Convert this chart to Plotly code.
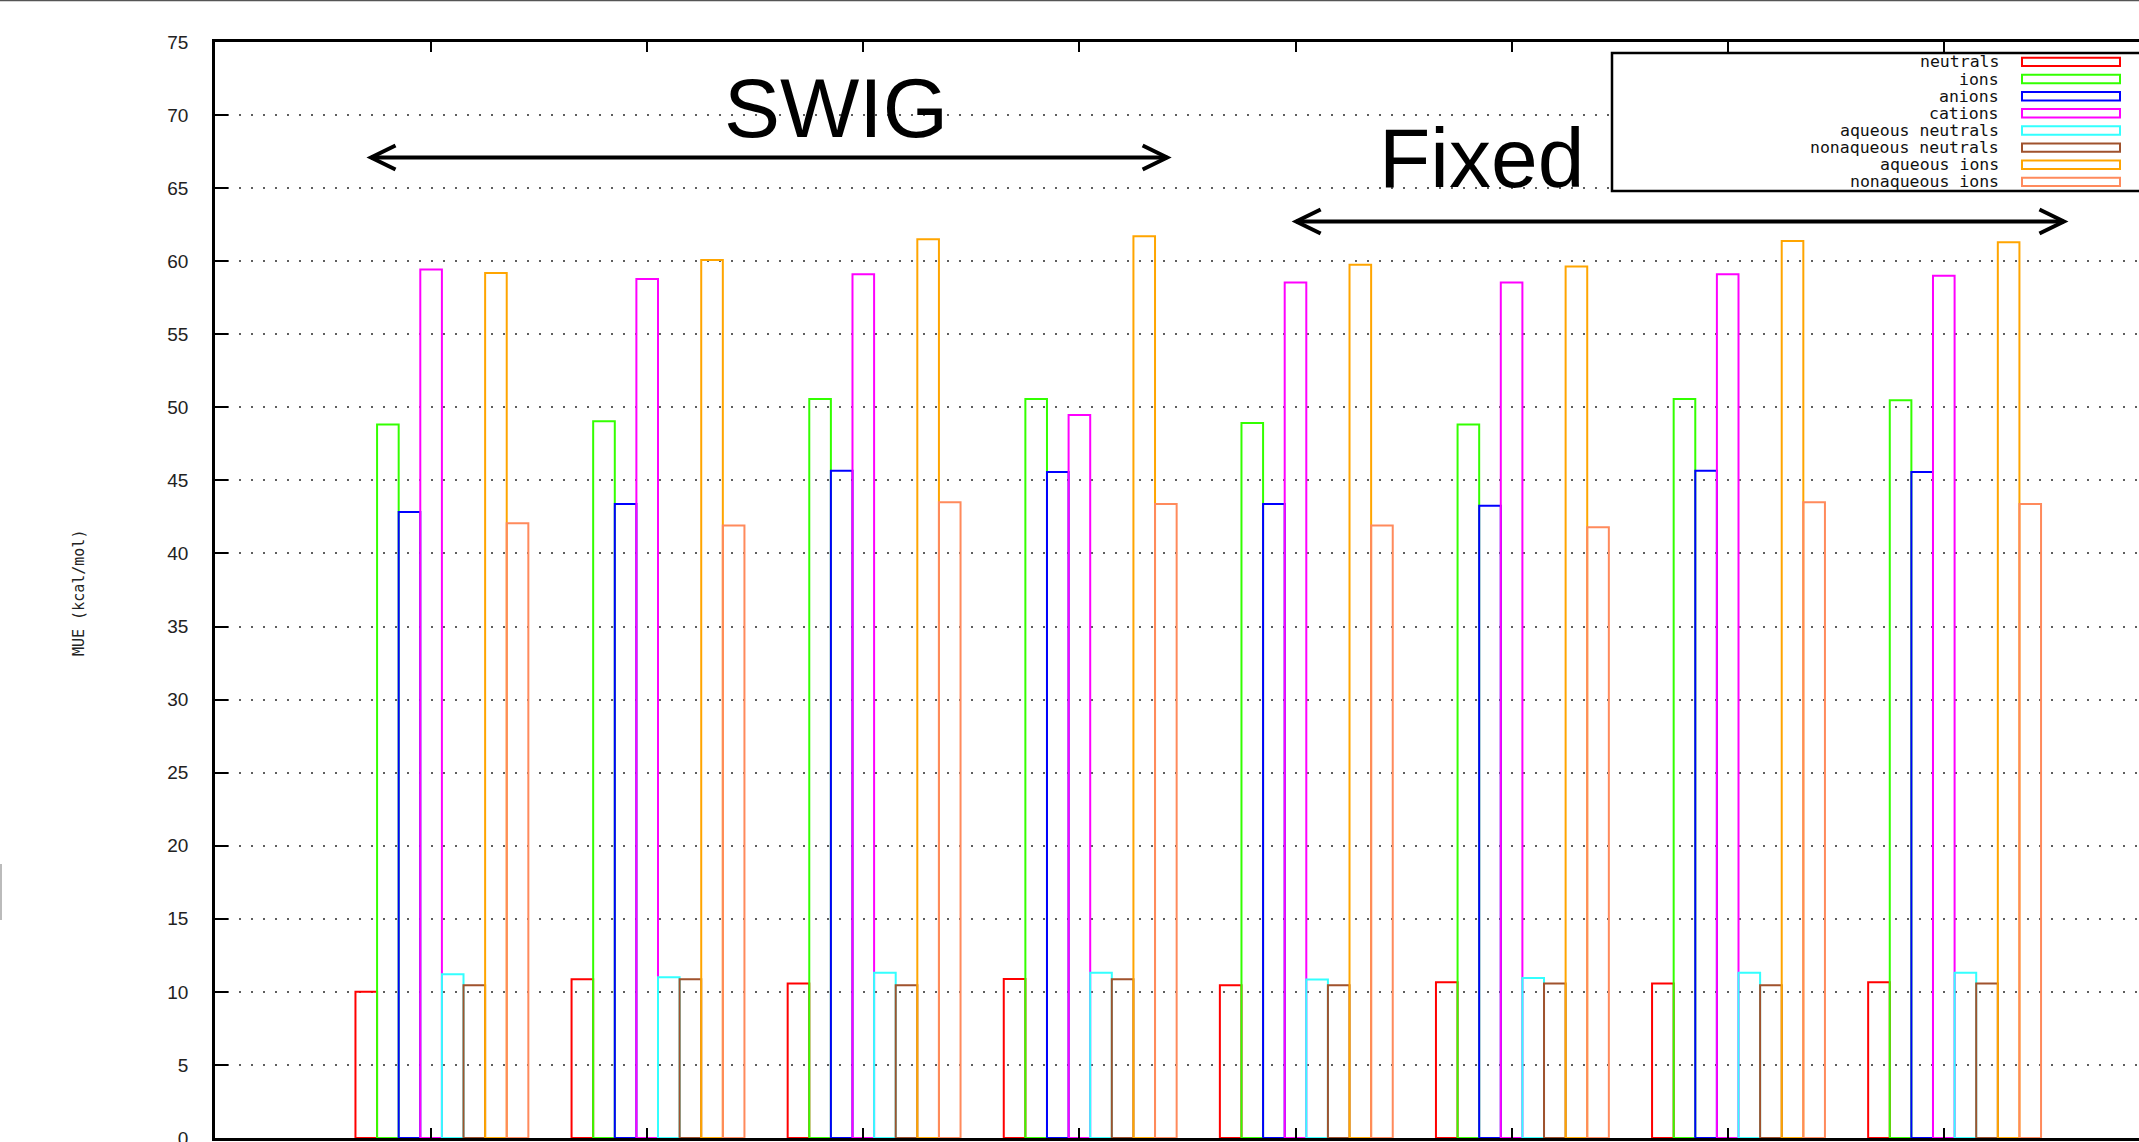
import plotly.graph_objects as go

# ---------------- data ----------------
groups = [0, 1, 2, 3, 4, 5, 6, 7]
series_names = ["neutrals", "ions", "anions", "cations", "aqueous neutrals",
                "nonaqueous neutrals", "aqueous ions", "nonaqueous ions"]
neutrals = [10.0, 10.87, 10.57, 10.88, 10.45, 10.66, 10.57, 10.66]
ions = [48.82, 49.05, 50.57, 50.57, 48.93, 48.82, 50.57, 50.48]
anions = [42.84, 43.39, 45.66, 45.57, 43.39, 43.27, 45.66, 45.57]
cations = [59.43, 58.79, 59.11, 49.48, 58.54, 58.54, 59.11, 59.0]
aqueous_neutrals = [11.2, 11.0, 11.3, 11.3, 10.84, 10.95, 11.3, 11.3]
nonaqueous_neutrals = [10.45, 10.87, 10.45, 10.86, 10.45, 10.57, 10.45, 10.57]
aqueous_ions = [59.2, 60.09, 61.51, 61.71, 59.75, 59.63, 61.39, 61.3]
nonaqueous_ions = [42.07, 41.91, 43.5, 43.39, 41.91, 41.8, 43.5, 43.39]
series_values = [neutrals, ions, anions, cations, aqueous_neutrals,
                 nonaqueous_neutrals, aqueous_ions, nonaqueous_ions]
y_ticks = list(range(0, 80, 5))
y_title = "MUE (kcal/mol)"
label_swig = "SWIG"
label_fixed = "Fixed"
# arrow spans (data coords)
swig_span = (-0.278, 3.406, 67.1)
fixed_span = (4.003, 7.556, 62.72)

# ---------------- style ----------------
colors = ["#ff0000", "#33ff00", "#0000ff", "#ff00ff", "#33ffff",
          "#a0522d", "#ffa500", "#ff8a5c"]
W, H = 2139, 1142
L, R, T, B = 215, 0, 42, 4
PW, PH = W - L - R, H - T - B
PX_PER_X = 216.1
X0 = -1.0
X1 = X0 + PW / PX_PER_X
BAR_W = 0.1


def px_x(px):
    return (px - L) / PW


def px_y(py):
    return (H - B - py) / PH


fig = go.Figure()
for i, (name, vals) in enumerate(zip(series_names, series_values)):
    fig.add_trace(go.Bar(
        x=[g + (i - 3) * BAR_W for g in groups], y=vals, width=BAR_W, name=name,
        marker=dict(color="rgba(0,0,0,0)", line=dict(color=colors[i], width=2)),
        showlegend=False,
    ))

shapes = []
annotations = []

# arrows
hx = 24.5 / PX_PER_X
hy = 12.0 / (PH / 75.0)
for (xa, xb, ya) in (swig_span, fixed_span):
    shapes.append(dict(type="line", xref="x", yref="y", x0=xa, x1=xb, y0=ya, y1=ya,
                       line=dict(color="black", width=4)))
    shapes.append(dict(type="path", xref="x", yref="y",
                       path=f"M {xa + hx} {ya + hy} L {xa} {ya} L {xa + hx} {ya - hy}",
                       line=dict(color="black", width=4)))
    shapes.append(dict(type="path", xref="x", yref="y",
                       path=f"M {xb - hx} {ya + hy} L {xb} {ya} L {xb - hx} {ya - hy}",
                       line=dict(color="black", width=4)))

annotations.append(dict(x=1.874, y=70.5, xref="x", yref="y", text=label_swig,
                        showarrow=False, xanchor="center", yanchor="middle",
                        font=dict(family="Liberation Sans, Arial", size=84, color="black")))
annotations.append(dict(x=4.86, y=67.05, xref="x", yref="y", text=label_fixed,
                        showarrow=False, xanchor="center", yanchor="middle",
                        font=dict(family="Liberation Sans, Arial", size=84, color="black")))

# legend (manual, gnuplot style)
shapes.append(dict(type="rect", xref="paper", yref="paper",
                   x0=px_x(1612), x1=px_x(2160), y0=px_y(191), y1=px_y(53),
                   fillcolor="white", line=dict(color="black", width=2.5), layer="above"))
row0, drow = 61.9, 17.14
for i, name in enumerate(series_names):
    yc = row0 + i * drow
    annotations.append(dict(x=px_x(2001), y=px_y(yc), xref="paper", yref="paper",
                            text=name, showarrow=False, xanchor="right", yanchor="middle",
                            font=dict(family="DejaVu Sans Mono", size=16.5, color="#111")))
    shapes.append(dict(type="rect", xref="paper", yref="paper",
                       x0=px_x(2022), x1=px_x(2120), y0=px_y(yc + 4.2), y1=px_y(yc - 4.2),
                       line=dict(color=colors[i], width=2), fillcolor="rgba(0,0,0,0)",
                       layer="above"))

# y title
annotations.append(dict(x=px_x(79), y=px_y(593), xref="paper", yref="paper",
                        text=y_title, showarrow=False, textangle=-90,
                        xanchor="center", yanchor="middle",
                        font=dict(family="DejaVu Sans Mono", size=15, color="#222")))

# screenshot frame line at top and small artifact at left edge
shapes.append(dict(type="line", xref="paper", yref="paper", x0=px_x(0), x1=px_x(W),
                   y0=px_y(0.5), y1=px_y(0.5), line=dict(color="#555555", width=1.5)))
shapes.append(dict(type="line", xref="paper", yref="paper", x0=px_x(1), x1=px_x(1),
                   y0=px_y(864), y1=px_y(920), line=dict(color="#bbbbbb", width=2)))

fig.update_layout(
    width=W, height=H, margin=dict(l=L, r=R, t=T, b=B, pad=0),
    paper_bgcolor="white", plot_bgcolor="white", barmode="overlay",
    shapes=shapes, annotations=annotations, showlegend=False,
)
fig.update_xaxes(range=[X0, X1], tickvals=groups, showticklabels=False,
                 ticks="inside", ticklen=10, tickwidth=2, tickcolor="black",
                 showline=True, linecolor="black", linewidth=2.5, mirror="ticks",
                 showgrid=False, zeroline=False, automargin=False)
fig.update_yaxes(range=[0, 75], tickvals=y_ticks, ticks="inside", ticklen=13,
                 tickwidth=2, tickcolor="black", showline=True, linecolor="black",
                 linewidth=2.5, mirror=False, zeroline=False, automargin=False,
                 showgrid=True, gridcolor="rgba(40,40,40,0.75)", gridwidth=1.6,
                 griddash="2px,10px", ticklabelstandoff=20, ticklabeloverflow="allow",
                 tickfont=dict(family="Liberation Sans, Arial", size=19, color="#222"))

fig.write_html("out.html", config={"displayModeBar": False},
               post_script="document.body.style.margin='0';document.body.style.overflow='hidden';")
